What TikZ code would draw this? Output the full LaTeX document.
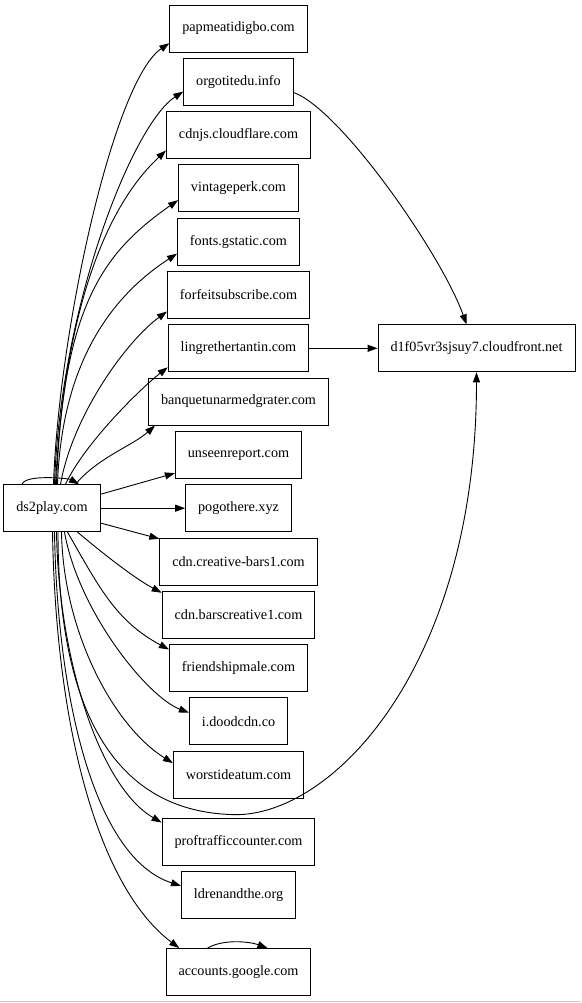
\documentclass[tikz,border=0pt]{standalone}
\usepackage{fontspec}
\setmainfont{Liberation Serif}
\usetikzlibrary{arrows.meta, positioning}

\begin{document}
\begin{tikzpicture}[x=1pt,y=-1pt,node distance=53.3pt,on grid,>={Triangle[length=10pt,width=7pt]},
      every node/.style={font=\fontsize{14.2pt}{16pt}\selectfont},
      site/.style={draw,line width=0.9pt,minimum height=47pt,inner xsep=12.5pt},
      link/.style={->,line width=0.9pt}]
  \useasboundingbox (0,0) rectangle (581,1003);
  \node[site] (papmeatidigbo) at (238.5,28.5) {papmeatidigbo.com};
  \node[site] (orgotitedu) [below=of papmeatidigbo] {orgotitedu.info};
  \node[site] (cdnjs) [below=of orgotitedu] {cdnjs.cloudflare.com};
  \node[site] (vintageperk) [below=of cdnjs] {vintageperk.com};
  \node[site] (gstatic) [below=of vintageperk] {fonts.gstatic.com};
  \node[site] (forfeitsubscribe) [below=of gstatic] {forfeitsubscribe.com};
  \node[site] (lingrethertantin) [below=of forfeitsubscribe] {lingrethertantin.com};
  \node[site] (banquet) [below=of lingrethertantin] {banquetunarmedgrater.com};
  \node[site] (unseenreport) [below=of banquet] {unseenreport.com};
  \node[site] (pogothere) [below=of unseenreport] {pogothere.xyz};
  \node[site] (creativebars) [below=of pogothere] {cdn.creative-bars1.com};
  \node[site] (barscreative) [below=of creativebars] {cdn.barscreative1.com};
  \node[site] (friendshipmale) [below=of barscreative] {friendshipmale.com};
  \node[site] (doodcdn) [below=of friendshipmale] {i.doodcdn.co};
  \node[site] (worstideatum) [below=of doodcdn] {worstideatum.com};
  \node[site] (proftraffic) [below=67pt of worstideatum] {proftrafficcounter.com};
  \node[site] (ldrenandthe) [below=of proftraffic] {ldrenandthe.org};
  \node[site] (accounts) [below=77pt of ldrenandthe] {accounts.google.com};
  \node[site] (ds2play) [left=186.5pt of pogothere] {ds2play.com};
  \node[site] (cloudfront) [right=238pt of lingrethertantin] {d1f05vr3sjsuy7.cloudfront.net};

  % fan out of ds2play.com, upper half
  \foreach \dest/\dx/\oa/\od/\ia/\id/\an in {
      papmeatidigbo/1.5/88/155/214/67/192, orgotitedu/2.5/88/180/213/60/190,
      cdnjs/3.5/87/200/223/67/192, vintageperk/4.5/88/180/215/90/191,
      gstatic/5.5/88/120/213/80/191, forfeitsubscribe/8.5/80/70/216/50/193,
      lingrethertantin/13.5/65/45/218/35/195, banquet/23.5/50/35/222/30/196}
    \draw[link] ([xshift=\dx pt]ds2play.north) to[out=\oa,in=\ia,out distance=\od pt,in distance=\id pt] (\dest.\an);
  % lower half
  \foreach \dest/\dx/\oa/\od/\ia/\id/\an in {
      accounts/0.5/-89/200/143/100/158, ldrenandthe/2.5/-89/170/162/90/171,
      proftraffic/4.5/-89/130/150/70/166, worstideatum/9.5/-89/100/148/70/170,
      doodcdn/12.5/-80/80/159/45/170, friendshipmale/15.5/-60/61/152/61/165,
      barscreative/25.5/-40/35/152/30/164}
    \draw[link] ([xshift=\dx pt]ds2play.south) to[out=\oa,in=\ia,out distance=\od pt,in distance=\id pt] (\dest.\an);
  \draw[link] (ds2play.16) -- (unseenreport.196);
  \draw[link] (ds2play) -- (pogothere);
  \draw[link] (ds2play.-17) -- (creativebars.164);

  % loops
  \draw[link] ([xshift=-30pt]ds2play.north) to[out=70,in=150,looseness=0.5] ([xshift=27pt]ds2play.north);
  \draw[link] ([xshift=-31pt]accounts.north) to[out=30,in=160,looseness=0.8] ([xshift=29pt]accounts.north);

  % into the cloudfront host
  \draw[link] (lingrethertantin) -- (cloudfront);
  \draw[link] (orgotitedu.-11) .. controls +(47,17) and +(-25,-70) .. ([xshift=-10pt]cloudfront.north);
  \draw[link] ([xshift=6pt]ds2play.south) .. controls +(0,168) and +(-130,0) .. ([yshift=-16pt]worstideatum.south)
      .. controls +(100,-3) and +(0,287) .. (cloudfront.south);

  \draw[gray!40] (0,1001.5) -- (581,1001.5);
\end{tikzpicture}
\end{document}
